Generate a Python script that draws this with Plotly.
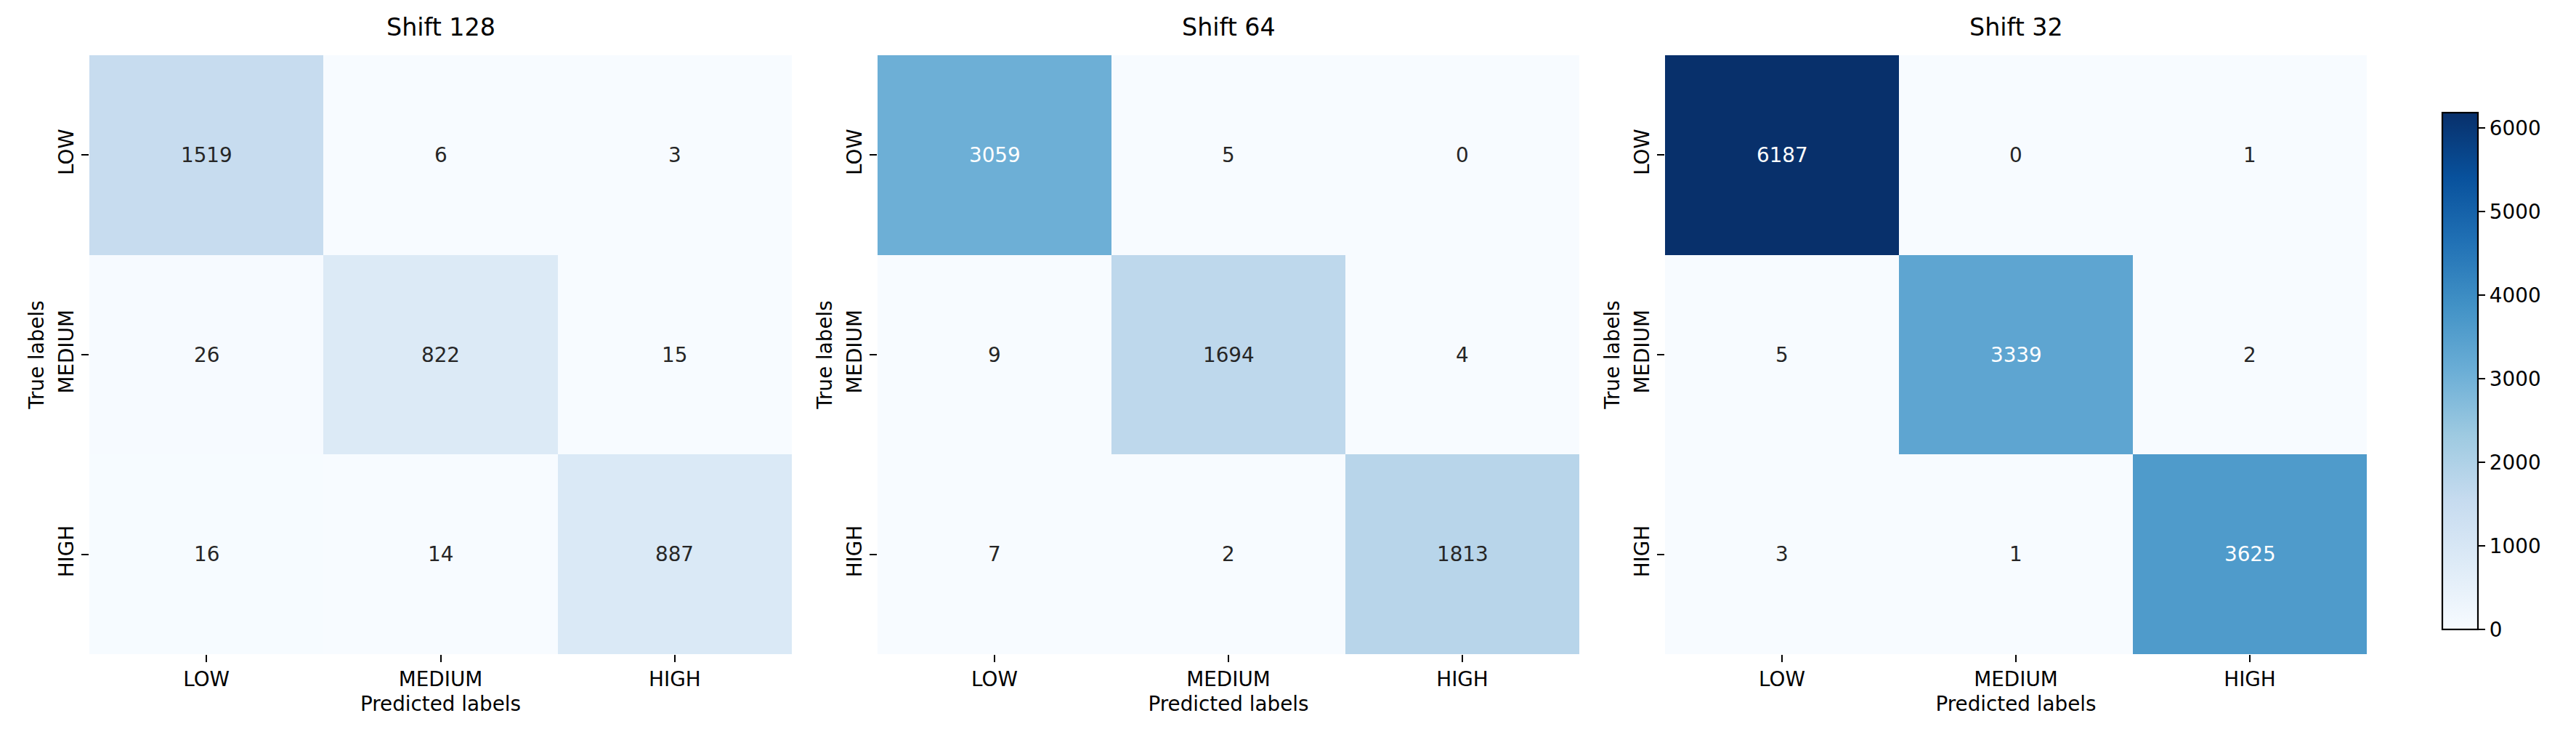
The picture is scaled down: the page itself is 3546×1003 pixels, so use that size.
import plotly.graph_objects as go

# ---- data ----
classes = ["LOW", "MEDIUM", "HIGH"]
titles = ["Shift 128", "Shift 64", "Shift 32"]
cm_shift128 = [[1519, 6, 3], [26, 822, 15], [16, 14, 887]]
cm_shift64 = [[3059, 5, 0], [9, 1694, 4], [7, 2, 1813]]
cm_shift32 = [[6187, 0, 1], [5, 3339, 2], [3, 1, 3625]]
matrices = [cm_shift128, cm_shift64, cm_shift32]
cbar_ticks = [0, 1000, 2000, 3000, 4000, 5000, 6000]

# matplotlib "Blues"
blues_hex = ["#f7fbff", "#deebf7", "#c6dbef", "#9ecae1", "#6baed6",
             "#4292c6", "#2171b5", "#08519c", "#08306b"]
colorscale = [[i / 8, c] for i, c in enumerate(blues_hex)]

zmin = 0
zmax = max(max(max(r) for r in m) for m in matrices)

FONT = "DejaVu Sans"
W, H = 3546, 1003
TXT = 27.8
TITLE = 33.3
OX, OY = 8, 8  # page body margin compensation

def hex2rgb(h):
    h = h.lstrip("#")
    return [int(h[i:i + 2], 16) / 255 for i in (0, 2, 4)]

def cmap(v):
    t = (v - zmin) / (zmax - zmin)
    t = min(max(t, 0), 1) * 8
    i = min(int(t), 7)
    f = t - i
    a, b = hex2rgb(blues_hex[i]), hex2rgb(blues_hex[i + 1])
    return [a[k] + (b[k] - a[k]) * f for k in range(3)]

def luminance(rgb):
    out = []
    for c in rgb:
        out.append(c / 12.92 if c <= 0.03928 else ((c + 0.055) / 1.055) ** 2.4)
    return 0.2126 * out[0] + 0.7152 * out[1] + 0.0722 * out[2]

def px(x):
    return (x - OX) / W

def py(y):
    return 1 - (y - OY) / H

# panel geometry (pixels, in reference image coordinates)
panels_x = [(123, 1090), (1208, 2174), (2292, 3258)]
top, bottom = 76, 900

fig = go.Figure()
annotations = []
for k, (m, title) in enumerate(zip(matrices, titles)):
    ax = "" if k == 0 else str(k + 1)
    fig.add_trace(go.Heatmap(
        z=m, x=classes, y=classes, colorscale=colorscale, zmin=zmin, zmax=zmax,
        xaxis="x" + ax, yaxis="y" + ax, showscale=(k == 2), hoverinfo="z",
        colorbar=dict(
            x=px(3362), xanchor="left", xpad=0, thickness=49,
            len=711, lenmode="pixels", y=py(510.5), yanchor="middle", ypad=0,
            outlinewidth=2.2, outlinecolor="black",
            tickvals=cbar_ticks, ticks="outside", ticklen=9.7, tickwidth=2.2,
            tickcolor="black", tickfont=dict(family=FONT, size=TXT, color="black"),
        ) if k == 2 else None,
    ))
    x0, x1 = panels_x[k]
    dom_x = [px(x0), px(x1)]
    dom_y = [py(bottom), py(top)]
    common = dict(showgrid=False, zeroline=False, showline=False, ticks="outside",
                  ticklen=9.7, tickwidth=2.2, tickcolor="black",
                  tickfont=dict(family=FONT, size=TXT, color="black"))
    fig.layout["xaxis" + ax] = dict(domain=dom_x, anchor="y" + ax,
                                    title=dict(text="Predicted labels", standoff=8,
                                               font=dict(family=FONT, size=TXT, color="black")),
                                    **common)
    fig.layout["yaxis" + ax] = dict(domain=dom_y, anchor="x" + ax, autorange="reversed",
                                    tickangle=-90,
                                    title=dict(text="True labels", standoff=6,
                                               font=dict(family=FONT, size=TXT, color="black")),
                                    **common)
    # subplot title
    annotations.append(dict(text=title, x=px((x0 + x1) / 2), y=py(59), xref="paper",
                            yref="paper", xanchor="center", yanchor="bottom", showarrow=False,
                            font=dict(family=FONT, size=TITLE, color="black")))
    # cell annotations
    for i, row in enumerate(m):
        for j, v in enumerate(row):
            col = "#262626" if luminance(cmap(v)) > 0.408 else "white"
            annotations.append(dict(text=str(v), x=classes[j], y=classes[i],
                                    xref="x" + ax, yref="y" + ax, showarrow=False,
                                    font=dict(family=FONT, size=TXT, color=col)))

fig.update_layout(
    width=W, height=H, margin=dict(l=0, r=0, t=0, b=0),
    paper_bgcolor="white", plot_bgcolor="white",
    annotations=annotations, showlegend=False,
    font=dict(family=FONT, size=TXT, color="black"),
)
fig.write_html("out.html")
